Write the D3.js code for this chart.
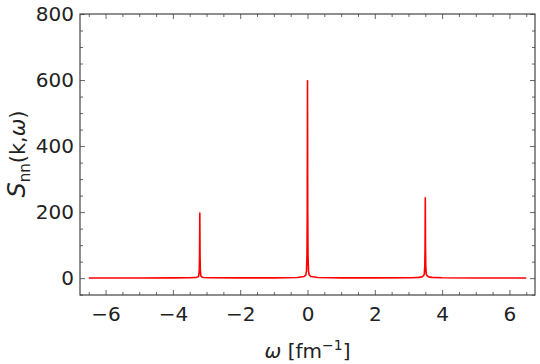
<!DOCTYPE html>
<html>
<head>
<meta charset="utf-8">
<script src="https://cdn.jsdelivr.net/npm/d3@7"></script>
<style>
  body { margin: 0; background: #fff; }
  svg text { font-family: "DejaVu Sans", sans-serif; fill: #222; }
</style>
</head>
<body>
<div id="chart"></div>
<script>
// spectrum samples
const omega = [-6.5, -5, -4, -3.5, -3.3, -3.25, -3.23, -3.215, -3.207, -3.2, -3.193, -3.185, -3.17, -3.15, -3.1, -2.9, -2, -1, -0.3, -0.1, -0.05, -0.03, -0.015, -0.007, 0, 0.007, 0.015, 0.03, 0.05, 0.1, 0.3, 1, 2, 3.1, 3.3, 3.4, 3.45, 3.47, 3.485, 3.493, 3.5, 3.507, 3.515, 3.53, 3.55, 3.6, 3.7, 4, 5, 6.5];
const snn   = [0.5, 0.6, 0.8, 1.2, 2.5, 4, 8, 25, 70, 197, 70, 25, 8, 4, 2, 1.2, 0.8, 1, 2, 5, 10, 22, 70, 200, 598, 200, 70, 22, 10, 5, 2, 1, 0.9, 1.2, 2.5, 4, 8, 12, 35, 90, 243, 90, 35, 12, 8, 4, 2.5, 1.2, 0.7, 0.5];

const xTicks = [-6, -4, -2, 0, 2, 4, 6];
const yTicks = [0, 200, 400, 600, 800];

const width = 540, height = 364;
const margin = {top: 14, right: 5, bottom: 69, left: 80};
const w = width - margin.left - margin.right;
const h = height - margin.top - margin.bottom;

const svg = d3.select("#chart").append("svg")
    .attr("width", width)
    .attr("height", height);

const g = svg.append("g")
    .attr("transform", `translate(${margin.left},${margin.top})`);

const x = d3.scaleLinear().domain([-6.76, 6.76]).range([0, w]);
const y = d3.scaleLinear().domain([-51, 800]).range([h, 0]);

const minorX = d3.range(-6.5, 6.51, 0.5).filter(v => Math.abs(v % 2) > 1e-6);
const minorY = d3.range(-50, 801, 50).filter(v => v % 200 !== 0);

function styleAxis(sel) {
  sel.select(".domain").remove();
  sel.selectAll(".tick line").attr("stroke", "#555").attr("stroke-width", 0.9);
  sel.selectAll(".tick text").style("font-size", "20px").attr("fill", "#222");
}

// bottom
g.append("g").attr("transform", `translate(0,${h})`)
  .call(d3.axisBottom(x).tickValues(xTicks).tickSize(-5).tickPadding(12).tickFormat(d3.format("d")))
  .call(styleAxis);
g.append("g").attr("transform", `translate(0,${h})`)
  .call(d3.axisBottom(x).tickValues(minorX).tickSize(-3).tickFormat(""))
  .call(styleAxis);
// top
g.append("g")
  .call(d3.axisTop(x).tickValues(xTicks).tickSize(-5).tickFormat(""))
  .call(styleAxis);
g.append("g")
  .call(d3.axisTop(x).tickValues(minorX).tickSize(-3).tickFormat(""))
  .call(styleAxis);
// left
g.append("g")
  .call(d3.axisLeft(y).tickValues(yTicks).tickSize(-5).tickPadding(6).tickFormat(d3.format("d")))
  .call(styleAxis);
g.append("g")
  .call(d3.axisLeft(y).tickValues(minorY).tickSize(-3).tickFormat(""))
  .call(styleAxis);
// right
g.append("g").attr("transform", `translate(${w},0)`)
  .call(d3.axisRight(y).tickValues(yTicks).tickSize(-5).tickFormat(""))
  .call(styleAxis);
g.append("g").attr("transform", `translate(${w},0)`)
  .call(d3.axisRight(y).tickValues(minorY).tickSize(-3).tickFormat(""))
  .call(styleAxis);

// frame
g.append("rect")
  .attr("width", w).attr("height", h)
  .attr("fill", "none")
  .attr("stroke", "#444")
  .attr("stroke-width", 1.2);

// curve
const line = d3.line()
  .x((d, i) => x(omega[i]))
  .y(d => y(d));

g.append("path")
  .datum(snn)
  .attr("d", line)
  .attr("fill", "none")
  .attr("stroke", "#ff0000")
  .attr("stroke-width", 1.6)
  .attr("stroke-linejoin", "round");

// axis labels
const xl = svg.append("text")
  .attr("x", margin.left + x(0))
  .attr("y", 358)
  .attr("text-anchor", "middle")
  .style("font-size", "20px");
xl.append("tspan").style("font-style", "italic").text("ω");
xl.append("tspan").text(" [fm");
xl.append("tspan").attr("dy", -8).style("font-size", "14px").text("−1");
xl.append("tspan").attr("dy", 8).text("]");

const yl = svg.append("text")
  .attr("transform", "translate(25,154) rotate(-90)")
  .attr("text-anchor", "middle")
  .style("font-size", "21px");
yl.append("tspan").style("font-style", "italic").style("font-size", "24px").text("S");
yl.append("tspan").attr("dy", 5).style("font-size", "15px").text("nn");
yl.append("tspan").attr("dy", -5).text("(k,");
yl.append("tspan").style("font-style", "italic").text("ω");
yl.append("tspan").text(")");
</script>
</body>
</html>
